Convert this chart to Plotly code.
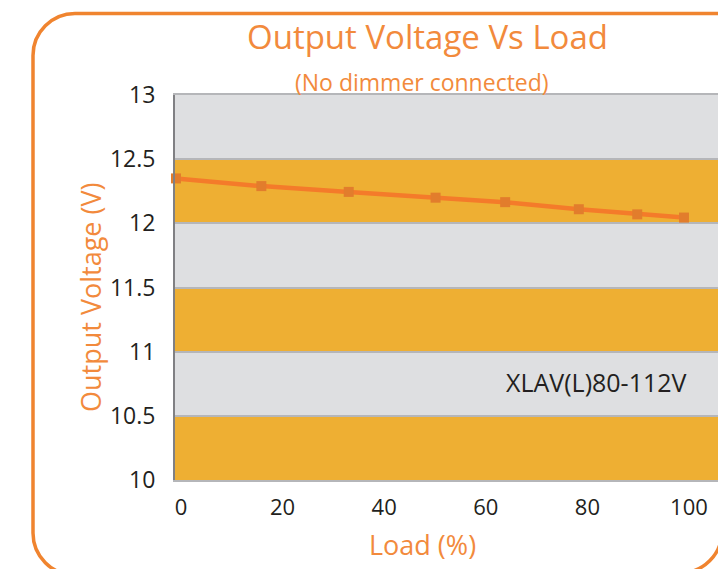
import plotly.graph_objects as go

load_pct = [0, 16.8, 34, 51.1, 64.8, 79.3, 90.8, 100]
voltage = [12.35, 12.29, 12.245, 12.20, 12.165, 12.11, 12.07, 12.045]
x_ticks = [0, 20, 40, 60, 80, 100]
y_ticks = [10, 10.5, 11, 11.5, 12, 12.5, 13]
orange_bands = [(10, 10.5), (11, 11.5), (12, 12.5)]

W, H = 718, 569
L, R, T, B = 175, 0, 95, 89
PW, PH = W - L - R, H - T - B


def px(x):
    return (x - L) / PW


def py(y):
    return (H - B - y) / PH


def pt(x, y):
    return f"{px(x):.5f},{py(y):.5f}"


ORANGE = "#F0842F"
TEXT_OR = "#F28A3C"
DARK = "#231F20"

fig = go.Figure()
fig.add_trace(go.Scatter(
    x=load_pct, y=voltage, mode="lines+markers",
    line=dict(color="#F47B2A", width=4.5),
    marker=dict(symbol="square", size=10, color="#E27D2C"),
    cliponaxis=False, showlegend=False,
))

shapes = []
for y0, y1 in orange_bands:
    shapes.append(dict(type="rect", xref="paper", yref="y", x0=0, x1=1, y0=y0, y1=y1,
                       fillcolor="#EEAF33", line=dict(width=0), layer="below"))

# rounded border: left/top part
x0, y0, r = 33, 13.5, 42
k = 0.5523 * r
yb = 575
left_path = (
    f"M {pt(740, y0)} L {pt(x0 + r, y0)} "
    f"C {pt(x0 + r - k, y0)} {pt(x0, y0 + r - k)} {pt(x0, y0 + r)} "
    f"L {pt(x0, yb - r)} C {pt(x0, yb - r + k)} {pt(x0 + r - k, yb)} {pt(x0 + r, yb)} "
    f"L {pt(500, yb)}"
)
shapes.append(dict(type="path", xref="paper", yref="paper", path=left_path,
                   line=dict(color=ORANGE, width=3.5), layer="above"))
# bottom-right corner arc, running off the page
cx, cy = 680, 531
right_path = (
    f"M {pt(cx + r, cy - 20)} L {pt(cx + r, cy)} "
    f"C {pt(cx + r, cy + k)} {pt(cx + k, cy + r)} {pt(cx, cy + r)} L {pt(600, cy + r)}"
)
shapes.append(dict(type="path", xref="paper", yref="paper", path=right_path,
                   line=dict(color=ORANGE, width=3.5), layer="above"))

font = "Open Sans"
annotations = [
    dict(text="Output Voltage Vs Load", x=px(427), y=py(36), xref="paper", yref="paper",
         showarrow=False, font=dict(family=font, size=33, color=TEXT_OR), xanchor="center", yanchor="middle"),
    dict(text="(No dimmer connected)", x=px(422), y=py(82), xref="paper", yref="paper",
         showarrow=False, font=dict(family=font, size=23, color=TEXT_OR), xanchor="center", yanchor="middle"),
    dict(text="Output Voltage (V)", x=px(90), y=py(297), xref="paper", yref="paper", textangle=-90,
         showarrow=False, font=dict(family=font, size=27, color=TEXT_OR), xanchor="center", yanchor="middle"),
    dict(text="Load (%)", x=px(422), y=py(544), xref="paper", yref="paper",
         showarrow=False, font=dict(family=font, size=27, color=TEXT_OR), xanchor="center", yanchor="middle"),
    dict(text="XLAV(L)80-112V", x=px(596), y=py(382), xref="paper", yref="paper",
         showarrow=False, font=dict(family=font, size=25, color=DARK), xanchor="center", yanchor="middle"),
]

fig.update_layout(
    width=W, height=H, margin=dict(l=L, r=R, t=T, b=B, autoexpand=False),
    paper_bgcolor="white", plot_bgcolor="#DEDFE1",
    shapes=shapes, annotations=annotations,
    xaxis=dict(range=[-0.2, 106.7], tickvals=x_ticks, ticktext=[str(v) for v in x_ticks],
               showgrid=False, zeroline=False, showline=True, mirror=True, linecolor="#B5B6B9", linewidth=2,
               ticks="", tickfont=dict(family=font, size=22, color=DARK), ticklabelstandoff=7,
               ticklabelshift=5, automargin=False, fixedrange=True),
    yaxis=dict(range=[10, 13], tickvals=y_ticks, ticktext=[f"{v:g}" for v in y_ticks],
               showgrid=True, gridcolor="#B5B6B9", gridwidth=2, zeroline=False,
               showline=True, linecolor="#808083", linewidth=2,
               ticks="", tickfont=dict(family=font, size=23, color=DARK), ticklabelstandoff=13,
               automargin=False, fixedrange=True),
)

fig.write_html(
    "out.html",
    config={"displayModeBar": False},
    post_script="document.documentElement.style.overflow='hidden';"
                "document.body.style.margin='0';document.body.style.overflow='hidden';",
)
